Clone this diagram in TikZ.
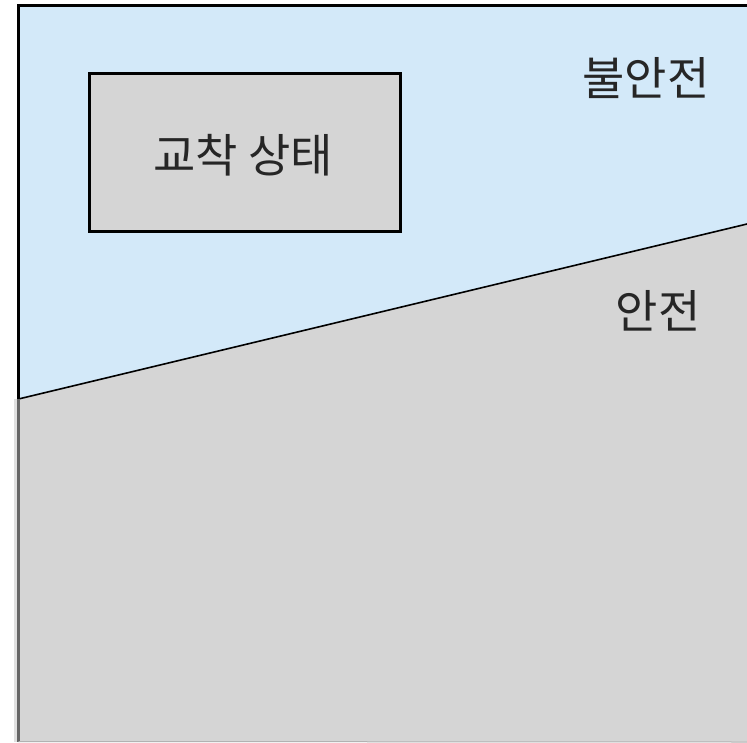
\documentclass[tikz,border=0pt]{standalone}
\usepackage{fontspec}
\newfontfamily\kr{Noto Sans CJK KR}
\definecolor{skyfill}{HTML}{D3E9F9}
\definecolor{safefill}{HTML}{D5D5D5}
\definecolor{edgegray}{HTML}{666666}
\begin{document}
\begin{tikzpicture}[x=1pt,y=-1pt,
  lbl/.style={font=\kr\fontsize{46}{50}\selectfont, text=black!85, inner sep=0pt},
  statebox/.style={draw=black, line width=3pt, fill=safefill, minimum width=311pt, minimum height=158pt, inner sep=0pt}]
\useasboundingbox (0,0) rectangle (747,742);
\coordinate (tl) at (18.5,5.5);
\coordinate (tr) at (747,5.5);
\coordinate (dl) at (18.5,399);
\coordinate (dr) at (747,224);
\coordinate (bl) at (18.5,742);
\coordinate (br) at (747,742);
\fill[skyfill] (tl) -- (tr) -- (dr) -- (dl) -- cycle;
\fill[safefill] (dl) -- (dr) -- (br) -- (bl) -- cycle;
\fill[black!12] (14,399) rectangle (17,742);
\draw[black, line width=1.6pt] (dl) -- (dr);
\draw[black, line width=3pt] (tr) -- (tl) -- (dl);
\draw[edgegray, line width=3pt] (dl) -- (bl);
\draw[black!30, line width=1pt] (18.5,741.5) -- (br);
\node[statebox] (box) at (244.5,152.5) {};
\node[lbl] (boxtext) at (243,155) {교착 상태};
\node[lbl] (unsafe) at (646,78) {불안전};
\node[lbl] (safe) at (658,311) {안전};
\end{tikzpicture}
\end{document}
